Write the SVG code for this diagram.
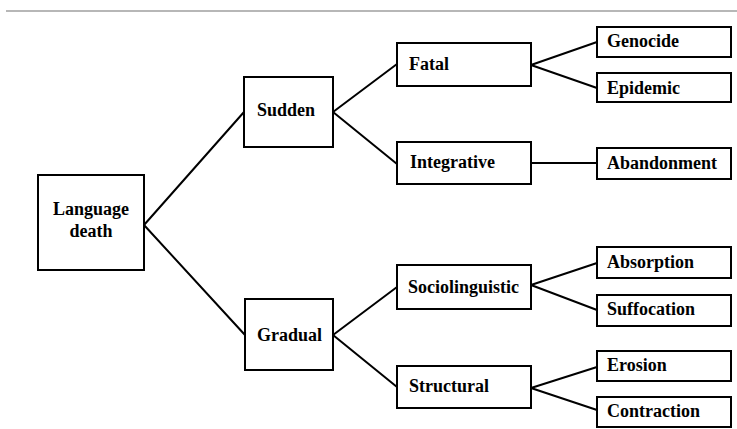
<svg xmlns="http://www.w3.org/2000/svg" width="737" height="429" viewBox="0 0 737 429">
<style>
.box{fill:#fff;stroke:#000;stroke-width:2}
.lbl{font-family:"Liberation Serif","Times New Roman",serif;font-size:18px;font-weight:bold;fill:#000}
.conn line{stroke:#000;stroke-width:2;stroke-linecap:round}
</style>
<rect width="737" height="429" fill="#fff"/>
<line x1="6" y1="11" x2="737" y2="11" stroke="#707070" stroke-width="1.2"/>
<g class="conn" id="connectors">
<line x1="144" y1="225" x2="244" y2="112"/>
<line x1="144" y1="225" x2="245" y2="335"/>
<line x1="333" y1="112" x2="397" y2="64"/>
<line x1="333" y1="112" x2="397" y2="164"/>
<line x1="333" y1="335" x2="397" y2="287"/>
<line x1="333" y1="335" x2="397" y2="387"/>
<line x1="531" y1="65" x2="597" y2="42"/>
<line x1="531" y1="65" x2="597" y2="88"/>
<line x1="531" y1="163" x2="597" y2="163"/>
<line x1="531" y1="285" x2="597" y2="263"/>
<line x1="531" y1="285" x2="597" y2="310"/>
<line x1="531" y1="388" x2="597" y2="367"/>
<line x1="531" y1="388" x2="597" y2="410"/>
</g>
<g id="language-death"><rect class="box" x="38" y="175" width="106" height="95"/><text class="lbl" x="91" y="215" text-anchor="middle">Language</text><text class="lbl" x="91" y="237" text-anchor="middle">death</text></g>
<g id="sudden"><rect class="box" x="244" y="77" width="89" height="70"/><text class="lbl" x="257" y="116">Sudden</text></g>
<g id="gradual"><rect class="box" x="245" y="299" width="88" height="71"/><text class="lbl" x="257" y="341">Gradual</text></g>
<g id="fatal"><rect class="box" x="397" y="43" width="134" height="43"/><text class="lbl" x="409" y="70">Fatal</text></g>
<g id="integrative"><rect class="box" x="397" y="142" width="134" height="42"/><text class="lbl" x="410" y="168">Integrative</text></g>
<g id="sociolinguistic"><rect class="box" x="397" y="265" width="134" height="44"/><text class="lbl" x="408" y="293">Sociolinguistic</text></g>
<g id="structural"><rect class="box" x="397" y="366" width="134" height="42"/><text class="lbl" x="409" y="392">Structural</text></g>
<g id="genocide"><rect class="box" x="597" y="27" width="134" height="30"/><text class="lbl" x="607" y="47">Genocide</text></g>
<g id="epidemic"><rect class="box" x="597" y="73" width="134" height="29"/><text class="lbl" x="607" y="94">Epidemic</text></g>
<g id="abandonment"><rect class="box" x="597" y="148" width="134" height="31"/><text class="lbl" x="607" y="169">Abandonment</text></g>
<g id="absorption"><rect class="box" x="597" y="247" width="134" height="31"/><text class="lbl" x="607" y="268">Absorption</text></g>
<g id="suffocation"><rect class="box" x="597" y="295" width="134" height="31"/><text class="lbl" x="607" y="315">Suffocation</text></g>
<g id="erosion"><rect class="box" x="597" y="351" width="134" height="30"/><text class="lbl" x="607" y="371">Erosion</text></g>
<g id="contraction"><rect class="box" x="597" y="397" width="134" height="30"/><text class="lbl" x="607" y="417">Contraction</text></g>
</svg>
